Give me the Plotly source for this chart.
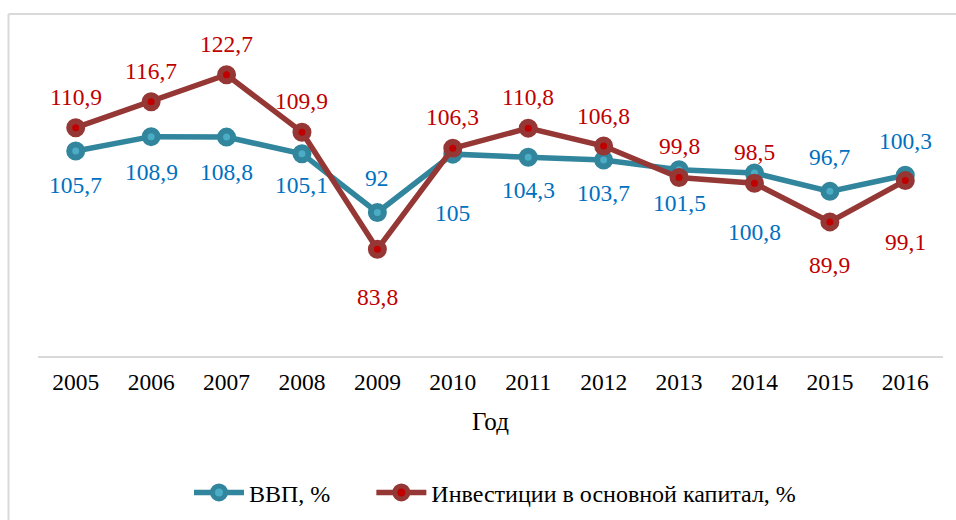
import plotly.graph_objects as go

years = ["2005", "2006", "2007", "2008", "2009", "2010", "2011", "2012", "2013", "2014", "2015", "2016"]
gdp = [105.7, 108.9, 108.8, 105.1, 92, 105, 104.3, 103.7, 101.5, 100.8, 96.7, 100.3]
inv = [110.9, 116.7, 122.7, 109.9, 83.8, 106.3, 110.8, 106.8, 99.8, 98.5, 89.9, 99.1]
gdp_label_shift = [-34, -35, -35, -31, 34, -59, -33, -33, -33, -59, 34, 34]
inv_label_shift = [31, 31, 31, 31, -48, 31, 31, 30, 31, 31, -43, -61]

GDP_LINE = "#31859C"
GDP_DOT = "#4BACC6"
INV_LINE = "#953735"
INV_DOT = "#C00000"
FONT = "Liberation Serif"
FS = 23.5

def fmt(v):
    return ("%g" % v).replace(".", ",")

fig = go.Figure()
fig.add_trace(go.Scatter(
    x=years, y=gdp, name="ВВП, %" + "\u00a0" * 6, mode="lines+markers",
    line=dict(color=GDP_LINE, width=5.5),
    marker=dict(size=13, color=GDP_DOT, line=dict(color=GDP_LINE, width=6)),
))
fig.add_trace(go.Scatter(
    x=years, y=inv, name="Инвестиции в основной капитал, %", mode="lines+markers",
    line=dict(color=INV_LINE, width=5.5),
    marker=dict(size=13, color=INV_DOT, line=dict(color=INV_LINE, width=6)),
))

annotations = []
for i, (v, s) in enumerate(zip(gdp, gdp_label_shift)):
    annotations.append(dict(x=i, y=v, xref="x", yref="y", text=fmt(v), showarrow=False, yshift=s,
                            font=dict(family=FONT, size=FS, color="#0070C0")))
for i, (v, s) in enumerate(zip(inv, inv_label_shift)):
    annotations.append(dict(x=i, y=v, xref="x", yref="y", text=fmt(v), showarrow=False, yshift=s,
                            font=dict(family=FONT, size=FS, color="#C00000")))

W, H = 956, 520
L, R, T, B = 38, 13, 41.5, 164
pw, ph = W - L - R, H - T - B
x_left = (8.5 - L) / pw
y_top = 1 + (T - 13.5) / ph
shapes = [
    dict(type="line", xref="paper", yref="paper", x0=x_left, x1=1.1, y0=y_top, y1=y_top,
         line=dict(color="#D9D9D9", width=2)),
    dict(type="line", xref="paper", yref="paper", x0=x_left, x1=x_left, y0=y_top, y1=-0.6,
         line=dict(color="#D9D9D9", width=2)),
]

fig.update_layout(
    width=W, height=H,
    margin=dict(l=L, r=R, t=T, b=B, autoexpand=False),
    paper_bgcolor="white", plot_bgcolor="white",
    font=dict(family=FONT, size=FS, color="black"),
    showlegend=True,
    legend=dict(orientation="h", x=(189 - L) / pw, xanchor="left",
                y=-(493 - (H - B)) / ph, yanchor="middle",
                font=dict(family=FONT, size=24, color="black"),
                itemwidth=50, tracegroupgap=0),
    xaxis=dict(type="category", range=[-0.5, 11.5], showgrid=False, showline=True,
               linecolor="#D9D9D9", linewidth=2, ticks="", zeroline=False,
               ticklabelstandoff=4, automargin=False,
               tickfont=dict(family=FONT, size=FS, color="black"),
               title=dict(text="Год", font=dict(family=FONT, size=25, color="black"), standoff=18)),
    yaxis=dict(range=[60, 130], showgrid=False, showline=False, showticklabels=False,
               zeroline=False, ticks="", automargin=False),
    annotations=annotations,
    shapes=shapes,
)

fig.write_html("out.html", config={"displayModeBar": False},
               post_script="document.body.style.margin='0px';")
